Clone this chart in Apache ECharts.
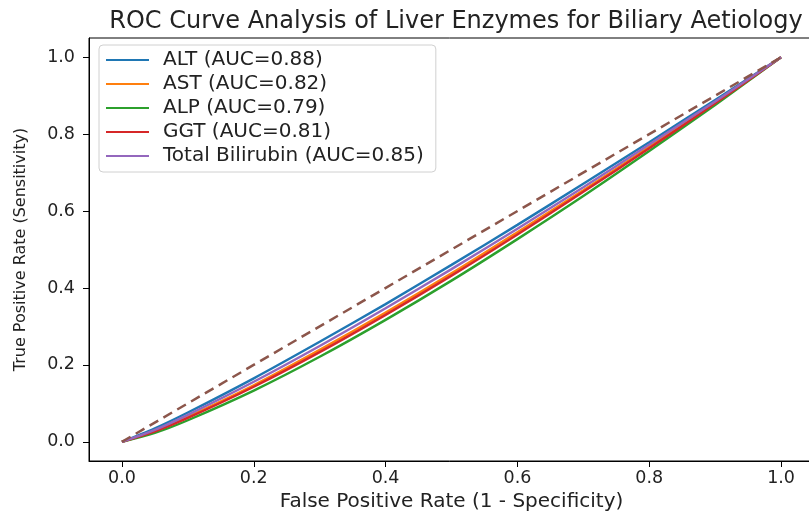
<!DOCTYPE html>
<html>
<head>
<meta charset="utf-8">
<script src="https://cdn.jsdelivr.net/npm/echarts@6/dist/echarts.min.js"></script>
<style>
    html, body { margin: 0; padding: 0; background: #fff; overflow: hidden; }
    #chart { width: 809px; height: 511px; }
</style>
</head>
<body>
<div id="chart"></div>
<script>
    // values
    var fpr = [0, 0.05, 0.1, 0.2, 0.3, 0.4, 0.5, 0.6, 0.7, 0.8, 0.9, 1.0]
    var altTpr = [0, 0.035, 0.076, 0.165, 0.26, 0.358, 0.46, 0.564, 0.671, 0.779, 0.889, 1.0]
    var astTpr = [0, 0.028, 0.065, 0.147, 0.239, 0.336, 0.438, 0.545, 0.654, 0.767, 0.882, 1.0]
    var alpTpr = [0, 0.023, 0.056, 0.133, 0.221, 0.317, 0.419, 0.527, 0.639, 0.756, 0.876, 1.0]
    var ggtTpr = [0, 0.027, 0.062, 0.143, 0.233, 0.33, 0.432, 0.539, 0.65, 0.763, 0.88, 1.0]
    var bilTpr = [0, 0.031, 0.07, 0.156, 0.249, 0.347, 0.449, 0.554, 0.662, 0.773, 0.885, 1.0]
    var chanceX = [0, 1]
    var chanceY = [0, 1]

    var names = ['ALT (AUC=0.88)', 'AST (AUC=0.82)', 'ALP (AUC=0.79)', 'GGT (AUC=0.81)', 'Total Bilirubin (AUC=0.85)']
    var colors = ['#1f77b4', '#ff7f0e', '#2ca02c', '#d62728', '#9467bd']
    var tprs = [altTpr, astTpr, alpTpr, ggtTpr, bilTpr]
    var ticks = [0, 0.2, 0.4, 0.6, 0.8, 1.0]

    var font = 'DejaVu Sans'

    function pairs(xs, ys) {
        return xs.map(function(x, i) { return [x, ys[i]] })
    }

    var series = names.map(function(name, i) {
        return {
            name: name,
            type: 'line',
            smooth: 0.3,
            showSymbol: false,
            symbol: 'none',
            lineStyle: { color: colors[i], width: 2.4 },
            itemStyle: { color: colors[i] },
            data: pairs(fpr, tprs[i])
        }
    })
    series.push({
        name: 'chance',
        type: 'line',
        showSymbol: false,
        symbol: 'none',
        lineStyle: { color: '#8c564b', width: 2.5, type: [10, 6] },
        data: pairs(chanceX, chanceY)
    })

    function axisBase() {
        return {
            type: 'value',
            min: -0.05,
            max: 1.05,
            splitLine: { show: false },
            axisLine: { show: true, onZero: false, lineStyle: { color: '#000', width: 1 } },
            axisTick: { show: true, length: 6, customValues: ticks, lineStyle: { color: '#000' } },
            axisLabel: {
                customValues: ticks,
                fontFamily: font,
                fontSize: 17.5,
                color: '#222',
                formatter: function(v) { return v.toFixed(1) }
            },
            nameLocation: 'middle',
            nameTextStyle: { fontFamily: font, fontSize: 20, color: '#222' }
        }
    }

    var xAxis = axisBase()
    xAxis.name = 'False Positive Rate (1 - Specificity)'
    xAxis.nameGap = 27
    xAxis.axisLabel.margin = 8

    var yAxis = axisBase()
    yAxis.name = 'True Positive Rate (Sensitivity)'
    yAxis.nameGap = 60
    yAxis.nameTextStyle.fontSize = 16
    yAxis.axisLabel.margin = 14

    var chart = echarts.init(document.getElementById('chart'), null, { renderer: 'canvas' })
    chart.setOption({
        animation: false,
        backgroundColor: '#fff',
        title: {
            text: 'ROC Curve Analysis of Liver Enzymes for Biliary Aetiology',
            left: 451,
            textAlign: 'center',
            top: 5,
            textStyle: { fontFamily: font, fontSize: 24, fontWeight: 'normal', color: '#222' }
        },
        legend: {
            orient: 'vertical',
            left: 99,
            top: 45,
            data: names,
            icon: 'rect',
            itemWidth: 43,
            itemHeight: 2,
            itemGap: 4,
            padding: [5, 12, 6, 7],
            borderColor: '#d0d0d0',
            borderWidth: 1,
            borderRadius: 4,
            backgroundColor: 'rgba(255,255,255,0.8)',
            textStyle: { fontFamily: font, fontSize: 20, lineHeight: 20, color: '#222', padding: [0, 0, 0, 9] }
        },
        grid: {
            left: 89,
            top: 38,
            width: 725,
            height: 423,
            show: true,
            borderColor: '#000',
            borderWidth: 1,
            outerBoundsMode: 'none',
            containLabel: false
        },
        xAxis: xAxis,
        yAxis: yAxis,
        series: series
    })
</script>
</body>
</html>
